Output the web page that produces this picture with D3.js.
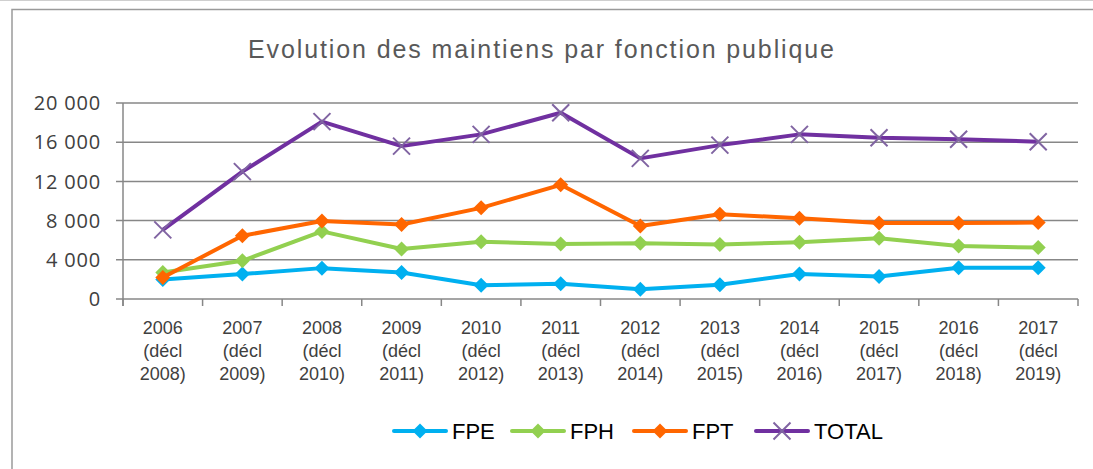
<!doctype html>
<html>
<head>
<meta charset="utf-8">
<script src="https://cdnjs.cloudflare.com/ajax/libs/d3/7.8.5/d3.min.js"></script>
<style>
  body { margin: 0; background: #fff; }
  svg { display: block; }
</style>
</head>
<body>
<svg width="1093" height="469"></svg>
<script>
// data
var years = ["2006", "2007", "2008", "2009", "2010", "2011", "2012", "2013", "2014", "2015", "2016", "2017"];
var declYears = ["2008", "2009", "2010", "2011", "2012", "2013", "2014", "2015", "2016", "2017", "2018", "2019"];
var fpe = [2000, 2550, 3150, 2700, 1400, 1550, 1000, 1450, 2550, 2300, 3200, 3200];
var fph = [2700, 3900, 6900, 5100, 5850, 5600, 5700, 5550, 5800, 6200, 5400, 5250];
var fpt = [2200, 6450, 7950, 7600, 9300, 11650, 7450, 8650, 8250, 7750, 7750, 7800];
var total = [7050, 13000, 18100, 15600, 16800, 19000, 14350, 15700, 16800, 16450, 16300, 16050];
var yTicks = [0, 4000, 8000, 12000, 16000, 20000];

var series = [
  { name: "FPE", values: fpe, color: "#00b0f0", marker: "diamond" },
  { name: "FPH", values: fph, color: "#92d050", marker: "diamond" },
  { name: "FPT", values: fpt, color: "#ff6600", marker: "diamond" },
  { name: "TOTAL", values: total, color: "#7030a0", marker: "cross" }
];

var svg = d3.select("svg");
var plotLeft = 123, plotRight = 1078, plotTop = 103, plotBottom = 299;

// frame
svg.append("line").attr("x1", 0).attr("x2", 1093).attr("y1", 0.5).attr("y2", 0.5)
  .attr("stroke", "#cfcfcf").attr("stroke-width", 1);
svg.append("path").attr("d", "M12,469V9.5H1093")
  .attr("fill", "none").attr("stroke", "#9a9a9a").attr("stroke-width", 1.5);

// title
svg.append("text")
  .attr("x", 541).attr("y", 58)
  .attr("text-anchor", "middle")
  .attr("font-family", "'Liberation Sans', Arial, sans-serif")
  .attr("font-size", 25)
  .attr("fill", "#595959")
  .attr("textLength", 586)
  .attr("lengthAdjust", "spacing")
  .text("Evolution des maintiens par fonction publique");

var x = d3.scaleBand().domain(years).range([plotLeft, plotRight]);
var y = d3.scaleLinear().domain([0, 20000]).range([plotBottom, plotTop]);

// gridlines
svg.append("g").selectAll("line").data(yTicks).enter().append("line")
  .attr("x1", plotLeft - 7).attr("x2", plotRight)
  .attr("y1", function (d) { return y(d); }).attr("y2", function (d) { return y(d); })
  .attr("stroke", "#878787").attr("stroke-width", 1.5);

// y axis line
svg.append("line").attr("x1", plotLeft).attr("x2", plotLeft).attr("y1", plotTop).attr("y2", plotBottom + 7)
  .attr("stroke", "#878787").attr("stroke-width", 1.5);

// y labels
var fmt = function (d) { return d3.format(",")(d).replace(/,/g, " "); };
svg.append("g").selectAll("text").data(yTicks).enter().append("text")
  .attr("x", 101).attr("y", function (d) { return y(d); })
  .attr("dy", "0.36em")
  .attr("text-anchor", "end")
  .attr("font-family", "'Open Sans', sans-serif")
  .attr("font-size", 20)
  .attr("letter-spacing", 0.8)
  .attr("fill", "#404040")
  .text(fmt);

// x tick marks at category boundaries
var bounds = years.map(function (d) { return x(d); }).concat([plotRight]);
svg.append("g").selectAll("line").data(bounds).enter().append("line")
  .attr("x1", function (d) { return d; }).attr("x2", function (d) { return d; })
  .attr("y1", plotBottom).attr("y2", plotBottom + 7)
  .attr("stroke", "#878787").attr("stroke-width", 1.5);

// x labels, three lines each
var xl = svg.append("g").selectAll("text").data(years).enter().append("text")
  .attr("text-anchor", "middle")
  .attr("font-family", "'Liberation Sans', Arial, sans-serif")
  .attr("font-size", 18)
  .attr("fill", "#404040");
xl.append("tspan").attr("x", function (d) { return x(d) + x.bandwidth() / 2; }).attr("y", 334).text(function (d) { return d; });
xl.append("tspan").attr("x", function (d) { return x(d) + x.bandwidth() / 2; }).attr("y", 357).text("(décl");
xl.append("tspan").attr("x", function (d) { return x(d) + x.bandwidth() / 2; }).attr("y", 380)
  .text(function (d, i) { return declYears[i] + ")"; });

function diamond(r) { return "M0," + (-r) + "L" + r + ",0L0," + r + "L" + (-r) + ",0Z"; }
function cross(r) { return "M" + (-r) + "," + (-r) + "L" + r + "," + r + "M" + r + "," + (-r) + "L" + (-r) + "," + r; }

function drawMarker(g, s, cx, cy) {
  if (s.marker === "diamond") {
    g.append("path").attr("d", diamond(7.5)).attr("transform", "translate(" + cx + "," + cy + ")")
      .attr("fill", s.color);
  } else {
    g.append("path").attr("d", cross(8.5)).attr("transform", "translate(" + cx + "," + cy + ")")
      .attr("fill", "none").attr("stroke", "#8064a2").attr("stroke-width", 2);
  }
}

var line = d3.line()
  .x(function (d, i) { return x(years[i]) + x.bandwidth() / 2; })
  .y(function (d) { return y(d); });

series.forEach(function (s) {
  var g = svg.append("g");
  g.append("path").datum(s.values).attr("d", line)
    .attr("fill", "none").attr("stroke", s.color).attr("stroke-width", 4)
    .attr("stroke-linejoin", "round");
  s.values.forEach(function (v, i) {
    drawMarker(g, s, x(years[i]) + x.bandwidth() / 2, y(v));
  });
});

// legend
var legendX = [394, 512, 634, 756];
series.forEach(function (s, i) {
  var g = svg.append("g").attr("transform", "translate(" + legendX[i] + ",431)");
  g.append("line").attr("x1", 0).attr("x2", 52).attr("y1", 0).attr("y2", 0)
    .attr("stroke", s.color).attr("stroke-width", 4).attr("stroke-linecap", "round");
  drawMarker(g, s, 26, 0);
  g.append("text").attr("x", 58).attr("y", 0).attr("dy", "0.36em")
    .attr("font-family", "'Liberation Sans', Arial, sans-serif")
    .attr("font-size", 22)
    .attr("fill", "#000000")
    .text(s.name);
});
</script>
</body>
</html>
